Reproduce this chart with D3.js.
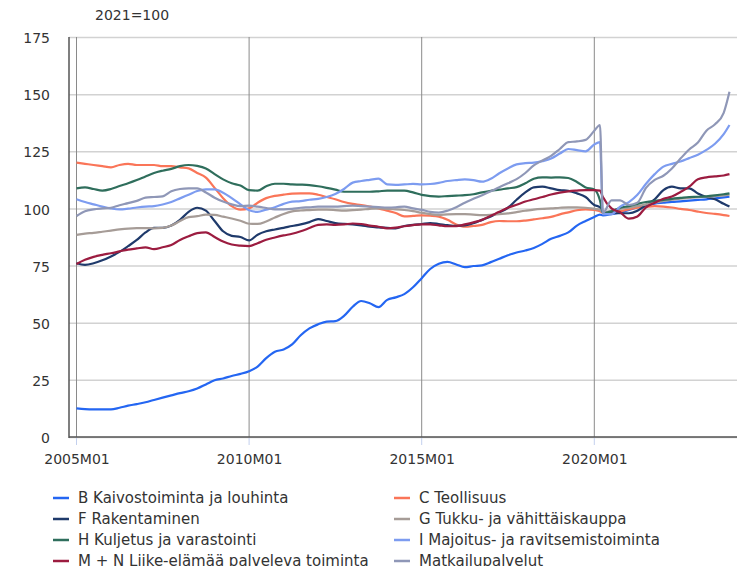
<!DOCTYPE html>
<html>
<head>
<meta charset="utf-8">
<script src="https://cdn.jsdelivr.net/npm/d3@7"></script>
<style>
  body { margin: 0; background: #fff; }
  svg text { font-family: "DejaVu Sans", Verdana, sans-serif; font-size: 14px; fill: #333; }
  .legend text { font-size: 15px; }
</style>
</head>
<body>
<svg id="chart" width="745" height="566"></svg>
<script>
// quarterly readings (plus 2020M03 and 2023M12)
const months = [
  "2005M01","2005M04","2005M07","2005M10","2006M01","2006M04","2006M07","2006M10",
  "2007M01","2007M04","2007M07","2007M10","2008M01","2008M04","2008M07","2008M10",
  "2009M01","2009M04","2009M07","2009M10","2010M01","2010M04","2010M07","2010M10",
  "2011M01","2011M04","2011M07","2011M10","2012M01","2012M04","2012M07","2012M10",
  "2013M01","2013M04","2013M07","2013M10","2014M01","2014M04","2014M07","2014M10",
  "2015M01","2015M04","2015M07","2015M10","2016M01","2016M04","2016M07","2016M10",
  "2017M01","2017M04","2017M07","2017M10","2018M01","2018M04","2018M07","2018M10",
  "2019M01","2019M04","2019M07","2019M10","2020M01","2020M03","2020M04","2020M07","2020M10",
  "2021M01","2021M04","2021M07","2021M10","2022M01","2022M04","2022M07","2022M10",
  "2023M01","2023M04","2023M07","2023M10","2023M12"
];

const kaivos = [
  12.5,12.2,12.1,12.1, 12.1,12.8,13.7,14.4, 15.2,16.2,17.2,18.2, 19.2,20.0,21.2,23.0,
  24.8,25.6,26.7,27.6, 28.8,30.8,34.5,37.3, 38.3,40.5,44.5,47.5, 49.3,50.5,50.7,53.0,
  57.0,59.5,58.5,56.8, 60.0,61.1,62.5,65.5, 69.5,73.5,75.8,76.6, 75.5,74.3,74.8,75.1,
  76.5,78.0,79.5,80.7, 81.6,82.7,84.5,86.7, 88.0,89.5,92.5,94.5, 96.3,97.3,97.0,97.5,98.3,
  99.3,100.5,101.3,102.1, 102.5,102.9,103.1,103.4, 103.7,104.0,104.4,104.8,105.1
];
const teollisuus = [
  120,119.5,119,118.5, 118,119,119.5,119, 119,119,118.5,118.5, 118,117.5,115.5,113.5,
  109,104.5,101,99.5, 100,102.5,104.5,105.5, 106,106.5,106.6,106.6, 106,105,104,102.8,
  102,101.5,100.8,100, 99,98,96.5,96.7, 97,96.8,96.4,95, 93,92,92.3,92.8,
  94,94.5,94.4,94.4, 94.7,95.2,95.7,96.3, 97.4,98.3,99.2,99.6, 99.3,98.8,98,98.3,98.8,
  99.6,100.3,100.7,101, 100.8,100.4,99.8,99.3, 98.6,98,97.6,97.1,96.7
];
const rakentaminen = [
  76,75.3,76,77.3, 79,81,83.5,86.2, 89.5,91.5,91.5,92.5, 95,98.5,100.3,99,
  94.5,90,88,87.5, 86,88.5,90,90.8, 91.5,92.3,93,94, 95.3,94.5,93.6,93.2,
  93,92.6,92,91.7, 91.5,91.3,92.3,92.8, 93.2,93.6,93.2,92.7, 92.4,92.6,93.5,95,
  96.5,98.3,100.3,103.8, 107,109.2,109.5,108.8, 108,107.7,106.6,105, 101.5,100.5,98.6,97.9,97.9,
  97.9,99,101.5,104, 108,109.5,108.8,108.8, 106.5,105,104,102,100.8
];
const kauppa = [
  88.4,89,89.3,89.8, 90.3,90.8,91.2,91.4, 91.4,91.3,91.5,92.5, 94.5,96.2,96.6,97.3,
  97.2,96.4,95.6,94.6, 93.3,93.2,94.3,96, 97.6,98.7,99.1,99.3, 99.5,99.5,99.3,99,
  99.3,99.5,99.8,100, 99.8,99.6,99.3,98.8, 98.1,97.5,97.1,97.4, 97.5,97.5,97.3,97.1,
  97.2,97.5,97.8,98.4, 99,99.5,99.8,100, 100.3,100.5,100.5,100.3, 99.8,99.5,98.3,99,99.8,
  100.3,101,101.8,102.5, 103.3,103.8,104.3,104.6, 104.9,105.1,105.4,105.7,106
];
const kuljetus = [
  108.8,109.2,108.5,107.8, 108.5,109.8,111,112.4, 114,115.5,116.5,117.3, 118.5,119,118.6,117.5,
  115,112.7,111,110, 108,107.8,109.7,110.8, 110.8,110.5,110.4,110.2, 109.7,109,108.2,107.3,
  107.3,107.3,107.3,107.5, 107.8,107.8,107.8,107, 105.9,105.4,105.2,105.4, 105.6,105.8,106.2,107,
  107.7,108.2,108.8,109.3, 111,113,113.6,113.5, 113.6,113.3,111.6,109.2, 108.3,103.5,98,98.7,100.3,
  101,102,102.8,103.3, 103.7,104.2,104.6,105, 105.1,105.3,105.7,106.2,106.6
];
const majoitus = [
  104,102.8,101.8,100.8, 100,99.6,99.9,100.4, 100.8,101,101.7,102.8, 104.4,106,107.6,108.3,
  108.3,106.9,104.5,101.8, 99.2,98.5,99.5,100.5, 102,103,103.2,103.8, 104.2,105,106.3,108.5,
  111.3,112,112.5,113, 110.5,110.3,110.5,110.7, 110.5,110.7,111.2,112, 112.4,112.7,112.4,111.7,
  113,115.4,117.5,119.3, 119.8,120,120.7,121.8, 124,126,125.5,125, 128,129,97.5,97.5,100.8,
  102.8,106,110.8,115, 118.3,119.5,120.5,122, 123.5,125.6,128.3,132.5,136.5
];
const liike = [
  75.7,77.5,78.8,79.7, 80.4,81.2,82,82.5, 83,82.2,83,84, 86.2,87.8,89.2,89.5,
  87.5,85.5,84.2,83.7, 83.5,84.8,86.3,87.3, 88.2,88.9,90,91.4, 92.8,93,92.8,93,
  93.4,93.2,92.5,92, 91.3,91.6,92.2,92.7, 93,93,92.6,92.2, 92.2,93,93.9,95,
  96.8,98.5,100.3,101.6, 103,104,105,106.1, 106.9,107.5,107.8,108, 108,107.8,105,100,98.3,
  95.5,96.5,100.5,102.5, 104.2,105.2,107.2,109.5, 112.8,113.6,114,114.4,115
];
const matkailu = [
  96.7,98.8,99.6,100, 100.3,101.4,102.3,103.3, 104.7,105,105.3,107.5, 108.5,108.8,108.8,107,
  104.7,103,101.8,101, 101.2,100.8,100.2,99.6, 99.6,99.8,100.3,100.5, 100.8,100.8,100.8,101,
  101.2,101,100.8,100.6, 100.4,100.5,100.8,100, 99.4,98.5,98.2,99, 100.5,102.5,104.2,105.8,
  107.5,109.3,111,112.8, 115.5,118.8,121,123, 126,129,129.3,130, 134,136.5,98,103.5,103.5,
  101.5,102.5,109,112.5, 114.3,117.5,121.8,125.8, 128.8,134,136.8,141.8,151
];

const seriesNames = [
  "B Kaivostoiminta ja louhinta", "C Teollisuus",
  "F Rakentaminen", "G Tukku- ja vähittäiskauppa",
  "H Kuljetus ja varastointi", "I Majoitus- ja ravitsemistoiminta",
  "M + N Liike-elämää palveleva toiminta", "Matkailupalvelut"
];
const seriesValues = [kaivos, teollisuus, rakentaminen, kauppa, kuljetus, majoitus, liike, matkailu];
const seriesColors = ["#2466f2", "#fa7558", "#1f3a6b", "#a69c97", "#2f6e5c", "#7d9cf0", "#9c1c40", "#8f97b7"];

const yTicks = [0, 25, 50, 75, 100, 125, 150, 175];
const xTicks = ["2005M01", "2010M01", "2015M01", "2020M01"];
const unitLabel = "2021=100";

let parseMonth = d3.timeParse("%YM%m");
let plotLeft = 69, plotRight = 737, plotTop = 37, plotBottom = 437;

let svg = d3.select("#chart");

let scaleX = d3.scaleTime()
  .domain([parseMonth("2005M01"), parseMonth("2024M01")])
  .range([76.5, 732.4]);

let scaleY = d3.scaleLinear()
  .domain([0, 175])
  .range([plotBottom, plotTop]);

// horizontal grid
const axisY = d3.axisLeft(scaleY)
  .tickValues(yTicks)
  .tickSize(-(plotRight - plotLeft))
  .tickPadding(19);

svg.append("g")
  .attr("class", "axis--y")
  .attr("transform", `translate(${plotLeft},0)`)
  .call(axisY)
  .call(g => g.select(".domain").remove())
  .call(g => g.selectAll("line").attr("stroke", "#d2d2d2").attr("stroke-width", 1.5))
  .call(g => g.selectAll("text").attr("dy", "0.4em"));

// vertical grid + small ticks under the axis
const xDates = xTicks.map(parseMonth);
const axisX = d3.axisBottom(scaleX)
  .tickValues(xDates)
  .tickFormat(d3.timeFormat("%YM%m"))
  .tickSize(0)
  .tickPadding(17);

svg.append("g")
  .selectAll("line")
  .data(xDates)
  .join("line")
  .attr("x1", d => scaleX(d)).attr("x2", d => scaleX(d))
  .attr("y1", plotTop).attr("y2", plotBottom)
  .attr("stroke", "#8a8a8a")
  .attr("stroke-width", 1);

svg.append("g")
  .selectAll("line")
  .data(xDates)
  .join("line")
  .attr("x1", d => scaleX(d)).attr("x2", d => scaleX(d))
  .attr("y1", plotBottom + 1).attr("y2", plotBottom + 8)
  .attr("stroke", "#c3d0ee")
  .attr("stroke-width", 1);

svg.append("g")
  .attr("class", "axis--x")
  .attr("transform", `translate(0,${plotBottom})`)
  .call(axisX)
  .call(g => g.select(".domain").remove());

svg.selectAll(".tick text").style("font-family", "DejaVu Sans, Verdana, sans-serif").style("font-size", "14px").attr("fill", "#333");

// lines
let line = d3.line()
  .x((d, i) => scaleX(parseMonth(months[i])))
  .y(d => scaleY(d))
  .curve(d3.curveMonotoneX);

svg.append("g")
  .selectAll("path")
  .data(seriesValues)
  .join("path")
  .attr("d", line)
  .attr("fill", "none")
  .attr("stroke", (d, i) => seriesColors[i])
  .attr("stroke-width", 2.2)
  .attr("stroke-linejoin", "round");

// axis lines
svg.append("line")
  .attr("x1", plotLeft).attr("x2", plotLeft)
  .attr("y1", plotTop).attr("y2", plotBottom + 1)
  .attr("stroke", "#555").attr("stroke-width", 1.5);
svg.append("line")
  .attr("x1", plotLeft).attr("x2", plotRight)
  .attr("y1", plotBottom).attr("y2", plotBottom)
  .attr("stroke", "#555").attr("stroke-width", 1.5);

// unit label
svg.append("text")
  .attr("x", 95).attr("y", 20)
  .text(unitLabel);

// legend
const legend = svg.append("g")
  .attr("class", "legend")
  .selectAll("g")
  .data(seriesNames)
  .join("g")
  .attr("transform", (d, i) => `translate(${i % 2 ? 394 : 53},${498 + Math.floor(i / 2) * 21})`);

legend.append("line")
  .attr("x1", 0).attr("x2", 16)
  .attr("stroke", (d, i) => seriesColors[i])
  .attr("stroke-width", 2.5);

legend.append("text")
  .attr("x", 25).attr("dy", "0.35em")
  .text(d => d);
</script>
</body>
</html>
